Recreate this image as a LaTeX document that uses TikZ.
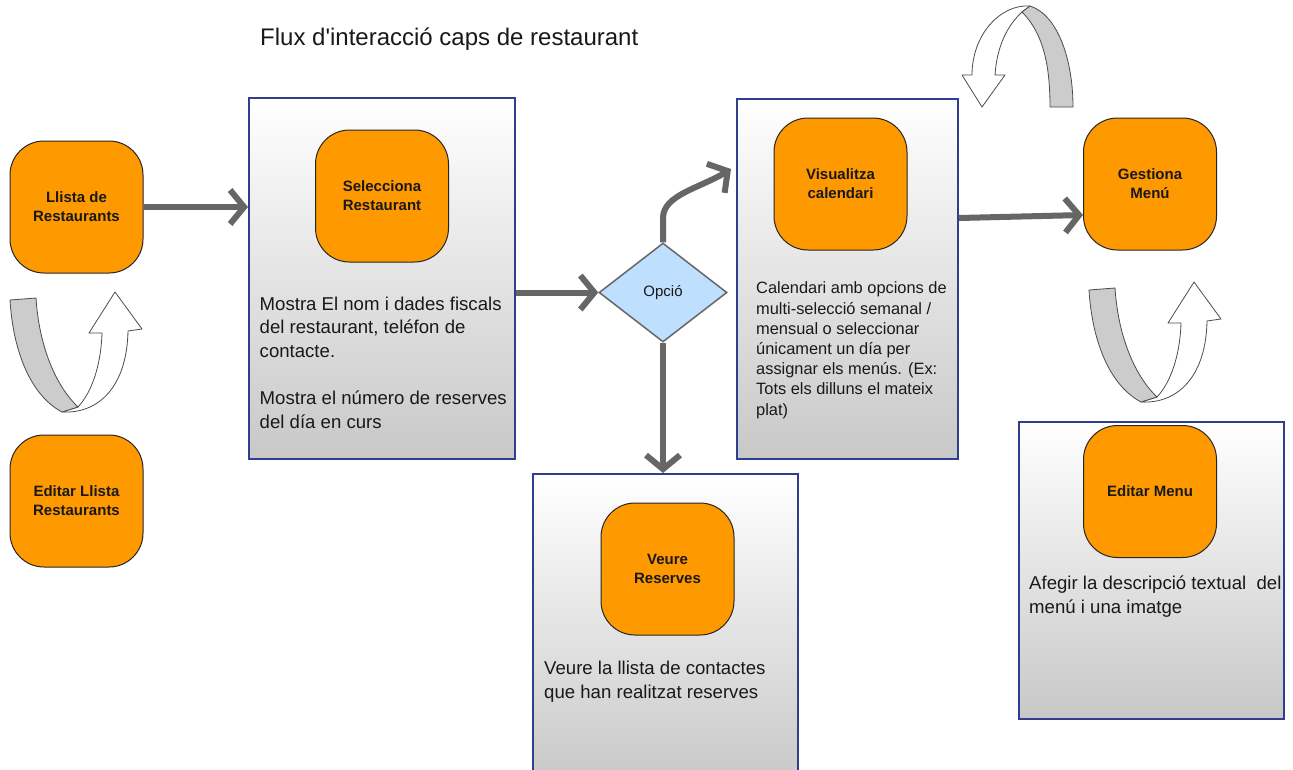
\documentclass[tikz,border=0pt]{standalone}
\usepackage{fontspec}
\setmainfont{Liberation Sans}
\usetikzlibrary{shapes.geometric,arrows.meta}
\definecolor{orangebox}{RGB}{255,153,0}
\definecolor{panelblue}{RGB}{47,62,142}
\definecolor{arrowgray}{RGB}{102,102,102}
\definecolor{diafill}{RGB}{191,223,255}
\definecolor{ribbongray}{RGB}{204,204,204}
\definecolor{panelbottom}{RGB}{200,200,200}
\definecolor{txt}{RGB}{25,25,25}
\newcommand\uribbon{%
  \filldraw[ribbon,fill=white] (62,412) .. controls (100,414) and (127,385) .. (128,331)
     -- (142,329) -- (115,292) -- (89,333) -- (102,333)
     .. controls (101,365) and (92,392) .. (78,407) -- cycle;
  \filldraw[ribbon,fill=ribbongray] (10,300) .. controls (13,350) and (30,395) .. (62,412)
     -- (78,407) .. controls (55,385) and (39,345) .. (36,298) -- cycle;
}
\begin{document}
\begin{tikzpicture}[x=1pt,y=-1pt,
  panel/.style={draw=panelblue,line width=2pt,top color=white,bottom color=panelbottom,
    rectangle,inner sep=0pt,anchor=north west},
  obox/.style={draw=black!85,line width=1pt,fill=orangebox,rounded corners=34pt,
    minimum width=133pt,minimum height=132pt,inner sep=0pt,align=center,
    font=\fontsize{15}{19}\selectfont\bfseries,text=txt},
  desc/.style={anchor=base west,align=left,inner sep=0pt,text=txt,
    font=\fontsize{18.6}{24.3}\selectfont},
  flow/.style={draw=arrowgray,line width=6pt,-{Straight Barb[length=14pt,width=34pt]}},
  ribbon/.style={draw=black!70,line width=0.8pt,line join=round}]
\clip (0,0) rectangle (1293,769);
\fill[white] (0,0) rectangle (1293,769);

% title
\node[anchor=base west,inner sep=0pt,text=txt,font=\fontsize{24}{29}\selectfont] (title)
  at (260,45) {Flux d\textquotesingle interacció caps de restaurant};

% panels
\node[panel,minimum width=266pt,minimum height=361pt] (p1) at (248,97) {};
\node[panel,minimum width=221pt,minimum height=360pt] (p2) at (736,98) {};
\node[panel,minimum width=265pt,minimum height=310pt] (p3) at (532,473) {};
\node[panel,minimum width=265pt,minimum height=297pt] (p4) at (1018,421) {};

% orange boxes
\node[obox] (llista) at (76.5,207) {Llista de\\Restaurants};
\node[obox] (editl) at (76.5,501) {Editar Llista\\Restaurants};
\node[obox] (selec) at (382,196) {Selecciona\\Restaurant};
\node[obox] (visu) at (840.5,184) {Visualitza\\calendari};
\node[obox] (gest) at (1150,184) {Gestiona\\Menú};
\node[obox] (veure) at (667.5,569) {Veure\\Reserves};
\node[obox] (editm) at (1150,491.5) {Editar Menu};

% descriptions (anchored at the baseline of their last line)
\node[desc,font=\fontsize{18.6}{23.7}\selectfont] (d1) at (259.5,428.5) {Mostra El nom i dades fiscals\\del restaurant, teléfon de\\contacte.\\[23.7pt]Mostra el número de reserves\\del día en curs};
\node[desc,font=\fontsize{16.4}{20.2}\selectfont] (d2) at (756,415)
  {Calendari amb opcions de\\multi-selecció semanal /\\mensual o seleccionar\\únicament un día per\\assignar els menús. (Ex:\\Tots els dilluns el mateix\\plat)};
\node[desc,font=\fontsize{18.6}{23.5}\selectfont] (d3) at (544,698) {Veure la llista de contactes\\que han realitzat reserves};
\node[desc,font=\fontsize{18.6}{24}\selectfont] (d4) at (1029,613) {Afegir la descripció textual~ del\\menú i una imatge};

% decision
\node[shape=diamond,draw=arrowgray,line width=1.5pt,fill=diafill,minimum width=128pt,
  minimum height=99pt,inner sep=0pt,text=txt,font=\fontsize{15}{18}\selectfont] (dia)
  at (663,292.5) {Opció};

% connectors
\coordinate (p2in) at (731,169);
\draw[flow] (llista.east) -- (llista.east -| p1.west);
\draw[flow] (p1.east |- dia) -- (dia.west);
\draw[flow] (dia.north) -- (663,218) .. controls (663,195) and (700,188) .. (p2in);
\draw[flow] (dia.south) -- (dia.south |- p3.north);
\draw[flow] (p2.east |- 0,218) -- (gest.west |- 0,215);

% ribbon arrows
\uribbon
\begin{scope}[shift={(1079,-10)}]
  \uribbon
\end{scope}
\filldraw[ribbon,fill=white] (1030,6) .. controls (1000,4) and (972,35) .. (972,75)
   -- (962,75) -- (982,107) -- (1005,75) -- (995,75)
   .. controls (997,45) and (1008,25) .. (1022,12) -- cycle;
\filldraw[ribbon,fill=ribbongray] (1073,107) .. controls (1073,60) and (1058,15) .. (1030,6)
   -- (1022,12) .. controls (1045,35) and (1050,70) .. (1050,107) -- cycle;
\end{tikzpicture}
\end{document}
